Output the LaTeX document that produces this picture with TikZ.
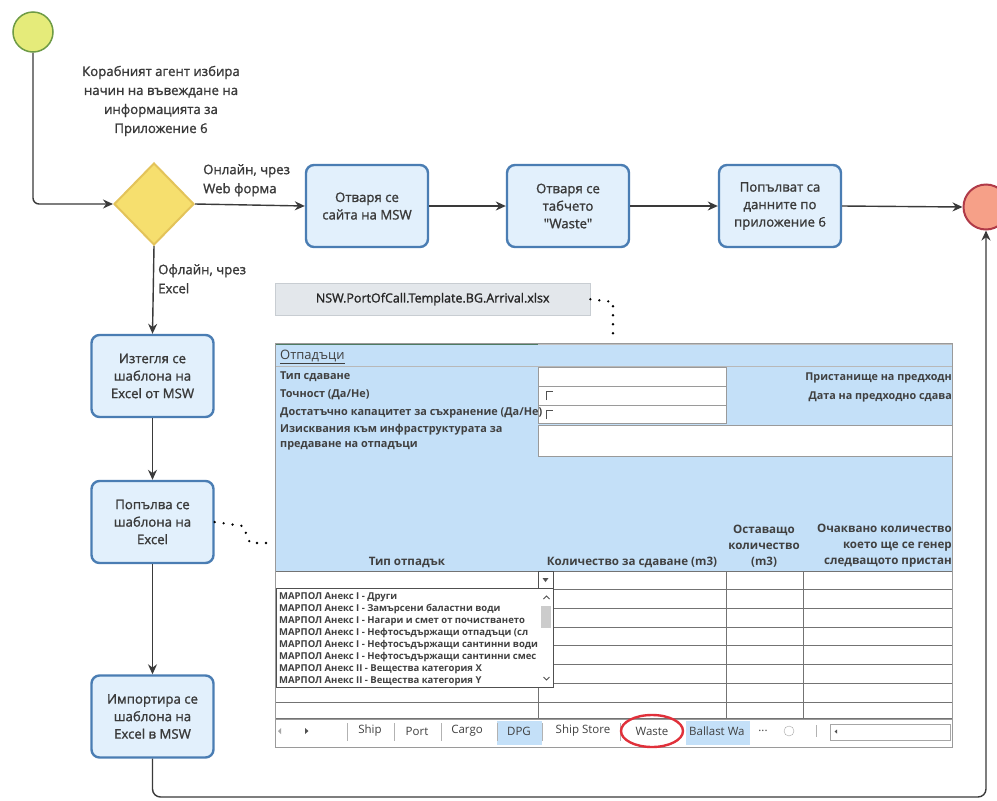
\documentclass[tikz,border=0pt]{standalone}
\usepackage{fontspec}
\setmainfont{Open Sans}
\newfontfamily\semib{Open Sans}[FakeBold=1.3]
\usetikzlibrary{arrows.meta,shapes.geometric}
\definecolor{txt}{HTML}{3A3A3A}
\definecolor{boxblue}{HTML}{4A7DB3}
\definecolor{boxfill}{HTML}{E2F0FC}
\definecolor{dia}{HTML}{F6DF6E}
\definecolor{diab}{HTML}{E3C35A}
\definecolor{startf}{HTML}{E5EB7A}
\definecolor{startb}{HTML}{6E9B45}
\definecolor{endf}{HTML}{F6A088}
\definecolor{endb}{HTML}{B03A48}
\definecolor{xblue}{HTML}{C4E0F8}
\definecolor{xgrid}{HTML}{9A9A9A}
\definecolor{xdark}{HTML}{505050}
\definecolor{xtxt}{HTML}{404040}
\definecolor{xgreen}{HTML}{4E7B62}
\definecolor{fnamef}{HTML}{E3E7EB}
\definecolor{fnameb}{HTML}{C8CDD2}
\definecolor{redmark}{HTML}{E0303A}
\newcommand\xlsfont{\fontsize{10.9}{16}\selectfont\bfseries}
\newcommand\xlshead{\fontsize{11.6}{16}\selectfont\bfseries}
\newcommand\xlsright{\fontsize{10.8}{13}\selectfont\bfseries}
\newcommand\listfont{\fontsize{9.5}{11}\selectfont\bfseries}
\newcommand\tabfont{\fontsize{11.5}{13}\selectfont}
\tikzset{
  flowbox/.style={draw=boxblue, line width=2.4pt, rounded corners=8pt, fill=boxfill,
    minimum width=122pt, minimum height=82pt, align=center, text=txt,
    font=\semib\fontsize{13.2}{17.5}\selectfont, inner sep=2pt},
  conn/.style={draw=txt, line width=1.4pt, -{Stealth[length=10pt,width=9pt]}},
  lbl/.style={text=txt, font=\semib\fontsize{13.2}{19}\selectfont, inner sep=0pt},
  dotline/.style={draw=black, line width=2.6pt, dash pattern=on 0pt off 9pt, line cap=round},
  xl/.style={anchor=west, text=xtxt, font=\xlsfont, inner sep=0pt},
  li/.style={anchor=west, text=xtxt, font=\listfont, inner sep=0pt},
  tab/.style={text=xtxt, font=\tabfont, inner sep=0pt},
}
\begin{document}
\begin{tikzpicture}[x=1pt,y=-1pt]
\useasboundingbox (0,0) rectangle (997,801);
\fill[white] (0,0) rectangle (997,801);

% ---------- spreadsheet screenshot ----------
\node[draw=fnameb, fill=fnamef, minimum width=315pt, minimum height=32pt, anchor=north west,
  text=black!85, font=\semib\fontsize{12.5}{14}\selectfont, inner sep=0pt] (fname) at (275,283)
  {NSW.PortOfCall.Template.BG.Arrival.xlsx};

\fill[xblue] (275,345) rectangle (952,571);
\draw[xgrid!70] (275,366) -- (952,366);
\filldraw[fill=white, draw=xgrid] (538,367) rectangle (726,423);
\draw[xgrid] (538,386) -- (726,386) (538,405) -- (726,405);
\filldraw[fill=white, draw=xgrid] (538,425) rectangle (952,456);
\draw[xdark, line width=0.8pt] (546,400) -- (546,391) -- (553,391);
\draw[xdark, line width=0.8pt] (546,419) -- (546,410) -- (553,410);
\draw[xgreen, line width=2.2pt] (275,344) -- (538,344);
\draw[black!25, line width=1.5pt] (538,344) -- (952,344);

\node[anchor=west, text=xtxt, font=\fontsize{13}{15}\selectfont, inner sep=0pt] (hdr) at (280,357) {\underline{Отпадъци}};
\node[xl] (r1) at (280,377) {Тип сдаване};
\node[xl] (r2) at (280,395) {Точност (Да/Не)};
\node[xl] (r3) at (280,413) {Достатъчно капацитет за съхранение (Да/Не)};
\node[xl] (r4) at (280,430) {Изисквания към инфраструктурата за};
\node[xl] (r5) at (280,446) {предаване на отпадъци};
\node[anchor=east, text=xtxt, font=\xlsright, inner sep=0pt] (p1) at (952,378) {Пристанище на предходн};
\node[anchor=east, text=xtxt, font=\xlsright, inner sep=0pt] (p2) at (952,397) {Дата на предходно сдава};

\node[text=xtxt, font=\xlshead, inner sep=0pt] (c1) at (407,562) {Тип отпадък};
\node[text=xtxt, font=\xlshead, inner sep=0pt] (c2) at (632,562) {Количество за сдаване (m3)};
\node[text=xtxt, font=\xlshead, inner sep=0pt, align=center] (c3) at (764,546) {Оставащо\\количество\\(m3)};
\node[anchor=east, text=xtxt, font=\xlshead, inner sep=0pt, align=right] (c4) at (952,546) {Очаквано количество\\което ще се генер\\следващото пристан};

% table grid
\foreach \yy in {571,589,608,627,645,664,683,702,718}
  \draw[xdark!80] (275,\yy) -- (952,\yy);
\foreach \xx in {538,726,803}
  \draw[xdark!80] (\xx,571) -- (\xx,718);
\draw[xgrid] (275,343) rectangle (952,747);

% dropdown
\filldraw[fill=white, draw=xdark] (538,571) rectangle (553,588);
\fill[xdark] (542.5,578) -- (548.5,578) -- (545.5,582) -- cycle;
\filldraw[fill=white, draw=xdark] (276,588) rectangle (553,687);
\node[li] (i1) at (279,597) {МАРПОЛ Анекс I - Други};
\node[li] (i2) at (279,609) {МАРПОЛ Анекс I - Замърсени баластни води};
\node[li] (i3) at (279,621) {МАРПОЛ Анекс I - Нагари и смет от почистването};
\node[li] (i4) at (279,633) {МАРПОЛ Анекс I - Нефтосъдържащи отпадъци (сл};
\node[li] (i5) at (279,645) {МАРПОЛ Анекс I - Нефтосъдържащи сантинни води};
\node[li] (i6) at (279,657) {МАРПОЛ Анекс I - Нефтосъдържащи сантинни смес};
\node[li] (i7) at (279,669) {МАРПОЛ Анекс II - Вещества категория X};
\node[li] (i8) at (279,681) {МАРПОЛ Анекс II - Вещества категория Y};
\fill[white] (539,589) rectangle (552,686);
\draw[xdark, line width=0.9pt] (543.5,599) -- (546.5,596) -- (549.5,599);
\fill[black!20] (541,606) rectangle (551,628);
\draw[xdark, line width=0.9pt] (543.5,677) -- (546.5,680) -- (549.5,677);

% tab bar
\filldraw[fill=white, draw=xgrid] (275,719) rectangle (952,747);
\fill[xblue] (497,721) rectangle (542,745);
\fill[xblue] (686,721) rectangle (750,745);
\fill[black!35] (281,728) -- (281,734) -- (278,731) -- cycle;
\fill[xdark] (305,728) -- (305,734) -- (308.5,731) -- cycle;
\foreach \xx in {347,394,441,497,542,620}
  \draw[black!30] (\xx,723) -- (\xx,741);
\node[tab] (t1) at (370,731) {Ship};
\node[tab] (t2) at (417,731) {Port};
\node[tab] (t3) at (467,731) {Cargo};
\node[tab] (t4) at (519,731) {DPG};
\node[tab] (t5) at (583,731) {Ship Store};
\node[tab] (t6) at (652,731) {Waste};
\node[tab, anchor=west] (t7) at (689,731) {Ballast Wa};
\node[tab] (t8) at (763,731) {...};
\draw[black!35] (789,731) circle[radius=5pt];
\draw[black!30] (816,725) -- (816,737);
\draw[black!35] (830,724) rectangle (950,740);
\fill[xdark] (837,729.5) -- (837,733.5) -- (834.5,731.5) -- cycle;
\draw[redmark, line width=2.4pt] (652,731) ellipse [x radius=31pt, y radius=16pt];

% ---------- flow ----------
\node[circle, fill=startf, draw=startb, line width=1.5pt, minimum size=40pt, inner sep=0pt] (start) at (33,32) {};
\node[circle, fill=endf, draw=endb, line width=2pt, minimum size=45pt, inner sep=0pt] (end) at (986,207) {};
\node[diamond, fill=dia, draw=diab, line width=2pt, minimum width=80pt, minimum height=82pt, inner sep=0pt] (gw) at (154,204) {};

\node[lbl, align=center] (q) at (161,101) {Корабният агент избира\\начин на въвеждане на\\информацията за\\Приложение 6};
\node[lbl, align=left, anchor=north west] (on) at (203,164) {Онлайн, чрез\\Web форма};
\node[lbl, align=left, anchor=north west] (off) at (158,264) {Офлайн, чрез\\Excel};

\node[flowbox] (b1) at (367,206) {Отваря се\\сайта на MSW};
\node[flowbox] (b2) at (568,206) {Отваря се\\табчето\\"Waste"};
\node[flowbox] (b3) at (780,206) {Попълват са\\данните по\\приложение 6};
\node[flowbox] (b4) at (152.5,376) {Изтегля се\\шаблона на\\Excel от MSW};
\node[flowbox] (b5) at (152.5,522) {Попълва се\\шаблона на\\Excel};
\node[flowbox] (b6) at (152.5,716.5) {Импортира се\\шаблона на\\Excel в MSW};

\draw[conn, rounded corners=6pt] (start.south) |- (gw.west);
\draw[conn] (gw.east) -- (b1.west);
\draw[conn] (b1.east) -- (b2.west);
\draw[conn] (b2.east) -- (b3.west);
\draw[conn] (b3.east) -- (end.west);
\draw[conn] (gw.south) -- (b4.north);
\draw[conn] (b4.south) -- (b5.north);
\draw[conn] (b5.south) -- (b6.north);
\coordinate (bl) at (152.5,797);
\coordinate (br) at (986,797);
\draw[conn, rounded corners=8pt] (b6.south) -- (bl) -- (br) -- (end.south);

% dotted associations
\coordinate (fa) at (613,302);
\coordinate (fb) at (613,338);
\draw[dotline] (fname.east) -- (fa) -- (fb);
\coordinate (da) at (243,526);
\coordinate (db) at (250,543);
\coordinate (dc) at (274,543);
\draw[dotline] (b5.east) -- (da) -- (db) -- (dc);
\end{tikzpicture}
\end{document}
